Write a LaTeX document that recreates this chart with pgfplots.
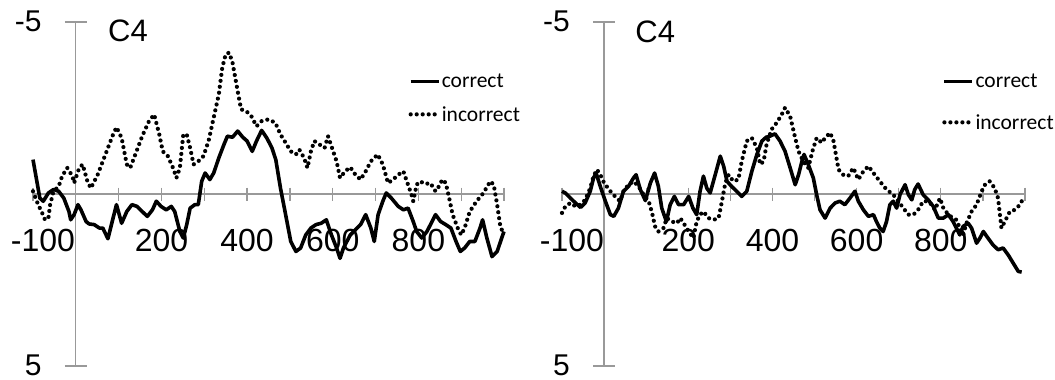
\documentclass[border=0pt]{standalone}
\usepackage{pgfplots}
\pgfplotsset{compat=1.18}
\usepackage{fontspec}
\setmainfont{Liberation Sans}
\newfontfamily\calibri{Carlito}

\pgfplotsset{
 erp/.style={
  scale only axis, axis lines=middle,
  axis line style={draw=black!40, line width=1.3pt, -},
  height=344pt, xmin=-100, xmax=1000, ymin=-5, ymax=5, y dir=reverse,
  xtick={-100,0,...,1000}, xticklabels={\hspace{20pt}-100,,,200,,400,,600,,800,,},
  ytick=\empty,
  extra y ticks={-5,5}, extra y tick labels={-5,5},
  extra y tick style={major tick length=22pt,
     yticklabel style={font=\fontsize{30}{34}\selectfont, anchor=base east, inner sep=1pt, xshift=-22pt, yshift=-9pt}},
  hide obscured x ticks=false, hide obscured y ticks=false,
  tick align=center, major tick length=13pt,
  tick style={draw=black!40, line width=1.3pt},
  xticklabel style={font=\fontsize{32}{36}\selectfont, anchor=base, yshift=-51pt},
  legend style={draw=none, fill=none, anchor=north west,
     font=\calibri\fontsize{21.5}{24}\selectfont, inner sep=0pt,
     nodes={inner sep=1pt}},
  legend cell align=left,
  legend image code/.code={\draw[##1] (0pt,0pt) -- (28pt,0pt);},
  clip=false,
 },
 corr/.style={black, line width=3.6pt, line join=round},
 inc/.style={black, line width=4.2pt, line cap=round, dash pattern=on 0pt off 6pt},
}

\begin{document}
\begin{tikzpicture}[x=1pt,y=1pt]
\useasboundingbox (0,0) rectangle (1055,380);
% ---------------- left panel ----------------
\begin{axis}[erp, width=471pt, at={(33pt,14pt)}, anchor=south west,
  legend style={at={(axis description cs:0.797,0.852)}, row sep=15pt}]
\addplot[corr] coordinates {
(-100,-1.00) (-84,0.12) (-76,0.21) (-64,-0.03) (-52,-0.13) (-40,-0.08) (-28,0.12)
(-16,0.51) (-12,0.75) (-4,0.60) (5,0.31) (12,0.46) (24,0.80) (31,0.87) (43,0.89)
(55,0.99) (63,0.99) (75,1.30) (87,0.70) (95,0.31) (107,0.85) (119,0.51) (131,0.31)
(143,0.36) (155,0.51) (167,0.65) (179,0.46) (188,0.21) (199,0.36) (211,0.46)
(223,0.36) (231,0.51) (243,1.09) (251,1.28) (259,0.89) (267,0.41) (278,0.31)
(286,0.31) (294,-0.37) (302,-0.61) (313,-0.42) (322,-0.61) (334,-1.05) (346,-1.44)
(354,-1.68) (366,-1.65) (378,-1.83) (390,-1.65) (400,-1.54) (412,-1.24) (422,-1.54)
(434,-1.85) (446,-1.63) (458,-1.34) (467,-1.00) (478,-0.17) (490,0.60) (502,1.38)
(514,1.67) (525,1.57) (537,1.19) (549,0.99) (561,0.89) (573,0.85) (585,0.75)
(597,1.19) (609,1.57) (617,1.87) (625,1.57) (633,1.38) (641,1.19) (653,1.04)
(665,0.89) (677,0.60) (689,0.99) (697,1.38) (706,0.60) (717,0.21) (725,-0.03)
(737,0.12) (753,0.36) (765,0.46) (776,0.41) (788,0.80) (796,1.09) (808,1.28)
(820,1.09) (832,0.80) (840,0.60) (852,0.80) (864,0.89) (876,0.99) (888,1.38)
(898,1.67) (908,1.57) (920,1.38) (932,1.38) (944,0.99) (950,0.75) (960,1.28)
(972,1.82) (984,1.67) (996,1.23) (1000,1.09)
};
\addlegendentry{correct}
\addplot[inc] coordinates {
(-100,-0.08) (-88,0.31) (-80,0.51) (-72,0.75) (-64,0.70) (-60,0.31) (-52,-0.08)
(-40,-0.22) (-32,-0.52) (-20,-0.76) (-8,-0.52) (-4,-0.32) (8,-0.76) (16,-0.86)
(27,-0.37) (35,-0.17) (51,-0.56) (63,-0.95) (75,-1.34) (87,-1.73) (95,-1.94)
(107,-1.63) (119,-0.86) (127,-0.76) (139,-1.15) (155,-1.68) (171,-2.12) (183,-2.31)
(195,-1.73) (203,-1.24) (215,-1.10) (227,-0.76) (235,-0.47) (243,-0.76) (251,-1.73)
(259,-1.73) (267,-1.34) (275,-0.86) (286,-0.95) (298,-1.10) (310,-1.54) (322,-2.22)
(334,-2.90) (342,-3.67) (350,-4.06) (358,-4.11) (366,-3.82) (378,-2.99) (386,-2.46)
(398,-2.41) (410,-2.26) (422,-1.97) (434,-2.12) (450,-2.17) (466,-2.07) (478,-1.73)
(490,-1.49) (502,-1.24) (514,-1.15) (522,-1.29) (533,-1.05) (541,-0.76) (549,-1.24)
(557,-1.54) (569,-1.44) (581,-1.34) (589,-1.68) (597,-1.39) (609,-0.95) (617,-0.47)
(629,-0.66) (641,-0.78) (653,-0.56) (665,-0.42) (677,-0.66) (689,-0.95) (705,-1.15)
(717,-0.86) (729,-0.32) (741,-0.42) (753,-0.56) (765,-0.66) (773,-0.37) (784,0.02)
(788,0.21) (796,-0.27) (804,-0.37) (816,-0.29) (828,-0.32) (840,-0.08) (848,-0.22)
(856,-0.42) (864,-0.32) (872,0.12) (880,0.60) (892,0.99) (900,1.19) (908,0.99)
(920,0.51) (936,0.21) (952,-0.03) (968,-0.37) (976,-0.27) (984,0.31) (992,0.99)
(998,1.09)
};
\addlegendentry{incorrect}
\node[anchor=base west, font=\fontsize{31}{34}\selectfont, inner sep=0pt] at (axis cs:75,-4.42) {C4};
\end{axis}
% ---------------- right panel ----------------
\begin{axis}[erp, width=463pt, at={(562pt,14pt)}, anchor=south west,
  legend style={at={(axis description cs:0.821,0.852)}, row sep=23pt}]
\addplot[corr] coordinates {
(-100,-0.08) (-92,-0.03) (-80,0.12) (-68,0.26) (-56,0.39) (-45,0.26) (-33,-0.08)
(-25,-0.47) (-19,-0.61) (-9,-0.22) (3,0.21) (15,0.60) (23,0.65) (34,0.41) (46,-0.08)
(58,-0.22) (70,-0.47) (76,-0.56) (86,-0.13) (98,0.19) (110,-0.32) (120,-0.61)
(129,-0.22) (137,0.41) (148,0.80) (157,0.31) (167,0.07) (177,0.31) (189,0.31)
(201,0.07) (211,0.41) (220,0.60) (228,-0.08) (236,-0.52) (244,-0.17) (252,-0.03)
(264,-0.56) (276,-1.10) (284,-0.81) (292,-0.37) (303,-0.22) (315,-0.08) (327,0.07)
(339,-0.08) (351,-0.66) (363,-1.15) (375,-1.54) (385,-1.65) (394,-1.68) (406,-1.75)
(418,-1.54) (430,-1.24) (442,-0.76) (454,-0.27) (462,-0.56) (470,-0.95) (475,-1.15)
(485,-0.86) (497,-0.47) (505,0.02) (513,0.46) (525,0.70) (537,0.41) (549,0.26)
(560,0.21) (572,0.31) (584,0.12) (596,-0.08) (604,0.21) (616,0.46) (628,0.65)
(640,0.60) (647,0.80) (655,0.99) (663,1.09) (671,0.80) (679,0.31) (687,0.21)
(695,0.41) (703,0.02) (715,-0.27) (723,0.02) (731,0.17) (738,-0.13) (746,-0.29)
(758,0.02) (770,0.17) (782,0.36) (794,0.70) (806,0.70) (818,0.60) (829,0.80)
(837,0.99) (845,1.19) (853,0.94) (865,0.85) (873,0.99) (885,1.43) (893,1.28)
(901,1.09) (912,1.28) (924,1.48) (936,1.62) (948,1.57) (960,1.77) (972,2.01)
(984,2.25) (992,2.27)
};
\addlegendentry{correct}
\addplot[inc] coordinates {
(-100,0.55) (-92,0.36) (-80,0.26) (-68,0.36) (-56,0.31) (-45,0.17) (-33,-0.17)
(-25,-0.52) (-17,-0.71) (-9,-0.56) (0,-0.32) (15,-0.08) (26,0.07) (38,0.21)
(46,-0.08) (58,-0.27) (70,-0.37) (82,-0.22) (94,0.02) (106,0.21) (114,0.55)
(121,0.94) (129,1.09) (141,0.99) (149,0.70) (161,0.80) (173,0.85) (181,0.70)
(189,0.85) (201,1.09) (212,1.28) (220,0.80) (228,0.60) (236,0.51) (248,0.70)
(260,0.75) (272,0.70) (280,0.21) (288,-0.32) (296,-0.56) (307,-0.37) (319,-0.42)
(327,-0.95) (339,-1.54) (351,-1.63) (363,-1.34) (371,-0.86) (379,-0.95) (386,-1.44)
(398,-1.88) (410,-2.07) (422,-2.31) (430,-2.51) (442,-2.26) (454,-1.63) (462,-1.24)
(473,-0.95) (485,-0.76) (496,-1.29) (505,-1.63) (517,-1.49) (525,-1.63) (537,-1.78)
(545,-1.54) (557,-0.71) (568,-0.56) (580,-0.52) (592,-0.76) (604,-0.42) (616,-0.66)
(628,-0.81) (640,-0.61) (655,-0.37) (671,-0.13) (687,0.02) (699,0.21) (711,0.41)
(723,0.60) (735,0.60) (746,0.46) (758,0.21) (770,0.21) (778,0.31) (786,0.46)
(798,0.12) (806,0.41) (818,0.60) (829,0.70) (837,0.75) (845,0.99) (853,1.19)
(861,0.85) (873,0.51) (885,0.31) (897,-0.08) (905,-0.27) (916,-0.37) (928,-0.17)
(936,0.12) (944,0.99) (952,0.80) (964,0.51) (976,0.46) (988,0.31) (996,0.12)
};
\addlegendentry{incorrect}
\node[anchor=base west, font=\fontsize{31}{34}\selectfont, inner sep=0pt] at (axis cs:74,-4.39) {C4};
\end{axis}
\end{tikzpicture}
\end{document}
